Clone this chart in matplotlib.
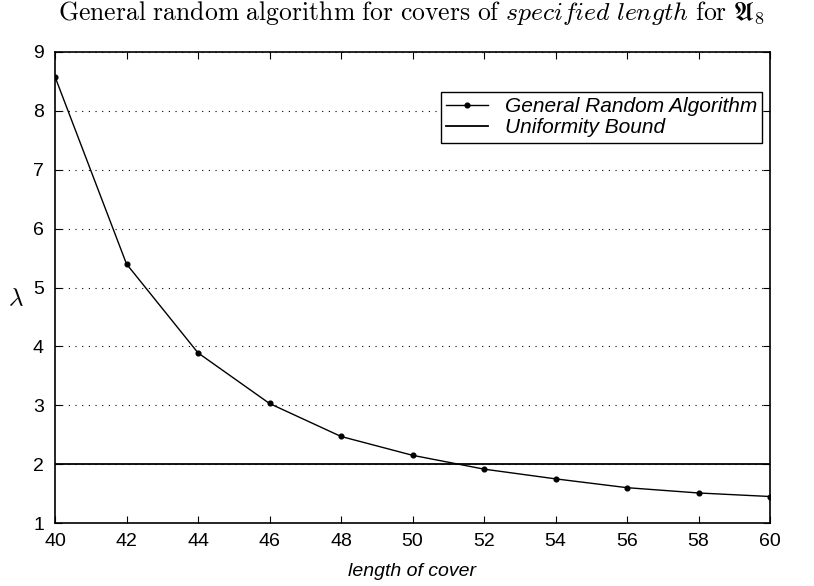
import matplotlib
matplotlib.use("Agg")
import matplotlib.pyplot as plt

lengths = [40, 42, 44, 46, 48, 50, 52, 54, 56, 58, 60]
lam = [8.58, 5.40, 3.89, 3.03, 2.47, 2.15, 1.915, 1.75, 1.60, 1.51, 1.45]
bound = 2.0
xticks = list(range(40, 61, 2))
yticks = list(range(1, 10))

plt.rcParams['font.family'] = ['Liberation Sans', 'DejaVu Sans']
plt.rcParams['mathtext.fontset'] = 'cm'

fig = plt.figure(figsize=(8.14, 5.86), dpi=100)
ax = fig.add_axes([55/814, 1-523/586, (770-55)/814, (523-52)/586])

ax.plot(lengths, lam, color='black', lw=1.0, marker='o', ms=3.4,
        label='General Random Algorithm')
ax.axhline(bound, color='black', lw=1.3, label='Uniformity Bound')

ax.set_xlim(40, 60)
ax.set_ylim(1, 9)
ax.set_xticks(xticks)
ax.set_yticks(yticks)
ax.tick_params(direction='in', top=True, right=True, labelsize=14, length=5, width=0.8)
ax.tick_params(axis='x', pad=7)
ax.tick_params(axis='y', pad=8)
for s in ax.spines.values():
    s.set_linewidth(1.2)
ax.yaxis.grid(True, linestyle=(0, (1, 5)), color='black', lw=0.8)

ax.set_xlabel('length of cover', fontsize=14, style='italic')
ax.xaxis.set_label_coords(0.5, -(572-523)/471, transform=ax.transAxes)
ax.xaxis.label.set_va('center')
ax.set_ylabel(r'$\lambda$', fontsize=18, rotation=0, va='center', ha='center')
ax.yaxis.set_label_coords(-(55-16)/715, 1-(298-52)/471)

fig.text(412/814, 1-13/586,
         r'$\mathrm{General\ random\ algorithm\ for\ covers\ of\ }specified\ length\mathrm{\ for\ }\mathfrak{A}_8$',
         fontsize=18.5, ha='center', va='center')

leg = ax.legend(loc='upper right', bbox_to_anchor=(762/814, 1-92/586),
                bbox_transform=fig.transFigure, fancybox=False, framealpha=1,
                edgecolor='black', prop={'style': 'italic', 'size': 15},
                handlelength=2.0, handletextpad=0.8, borderpad=0.25,
                labelspacing=0.1, borderaxespad=0)
leg.get_frame().set_linewidth(1.0)

fig.savefig('out.png', dpi=100)
